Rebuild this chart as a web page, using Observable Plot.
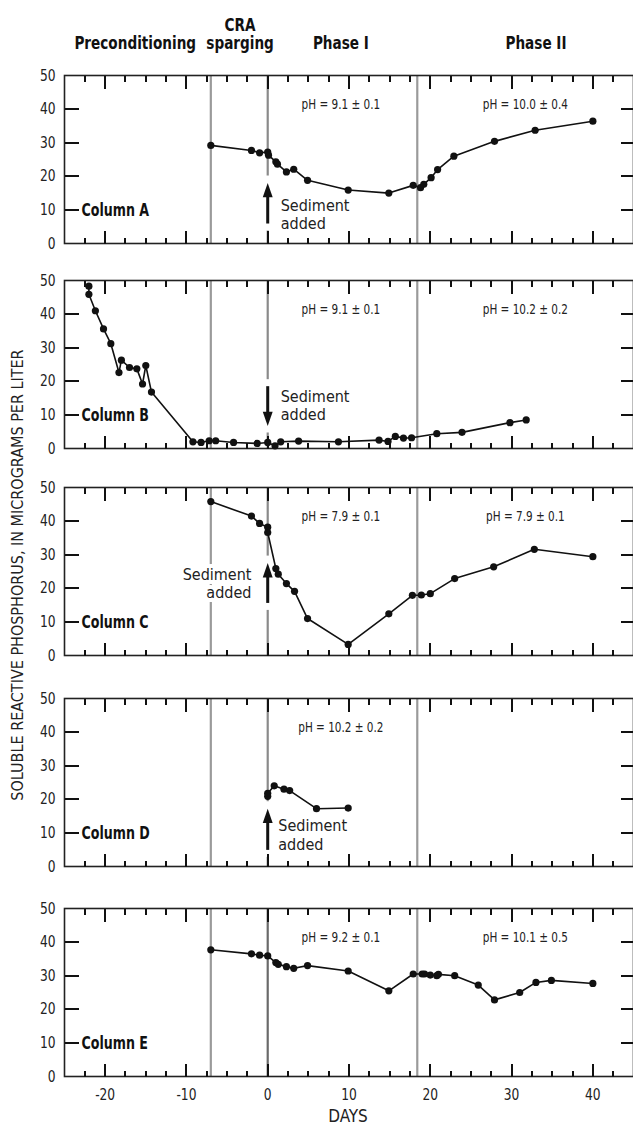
<!DOCTYPE html>
<html><head><meta charset="utf-8">
<script src="https://cdn.jsdelivr.net/npm/d3@7"></script>
<script src="https://cdn.jsdelivr.net/npm/@observablehq/plot@0.6"></script>
<style>
body{margin:0;background:#fff;}
#chart{position:relative;width:633px;height:1125px;overflow:hidden;font-family:"DejaVu Sans Condensed","DejaVu Sans",sans-serif;font-stretch:condensed;color:#222;}
#chart svg{position:absolute;left:0;overflow:visible;}
.abs{position:absolute;white-space:nowrap;}
</style></head><body><div id="chart"></div>
<script>
// ---------- data ----------
const panelNames = ["Column A", "Column B", "Column C", "Column D", "Column E"];

const daysA   = [-7, -2, -1, 0, 0.1, 1, 1.2, 2.3, 3.2, 4.9, 9.9, 14.9, 17.9, 18.8, 19.2, 20.1, 20.9, 22.9, 27.9, 32.9, 40];
const valuesA = [29.2, 27.7, 27.0, 27.2, 26.3, 24.3, 23.6, 21.3, 22.1, 18.8, 15.9, 15.0, 17.3, 16.6, 17.6, 19.6, 22.0, 26.0, 30.4, 33.7, 36.4];

const daysB   = [-22, -22, -21.2, -20.2, -19.3, -18.3, -18.0, -17.0, -16.1, -15.4, -15.0, -14.3, -9.2, -8.2, -7.2, -6.4, -4.2, -1.3, 0, 0.9, 1.6, 3.8, 8.7, 13.7, 14.8, 15.7, 16.7, 17.7, 20.8, 23.9, 29.8, 31.8];
const valuesB = [48.3, 45.9, 41.0, 35.6, 31.2, 22.6, 26.3, 24.1, 23.7, 19.2, 24.7, 16.8, 2.0, 1.8, 2.3, 2.3, 1.8, 1.5, 1.8, 0.8, 2.0, 2.2, 2.0, 2.5, 2.1, 3.6, 3.1, 3.2, 4.4, 4.8, 7.7, 8.5];

const daysC   = [-7, -2, -1, 0, 0, 1, 1.3, 2.3, 3.3, 4.9, 9.9, 14.9, 17.8, 18.9, 20, 23, 27.8, 32.8, 40];
const valuesC = [45.8, 41.5, 39.3, 38.2, 36.6, 25.9, 24.2, 21.4, 19.1, 11.0, 3.3, 12.4, 17.9, 18.0, 18.4, 22.9, 26.4, 31.6, 29.4];

const daysD   = [0, 0, 0.8, 2, 2.7, 6, 9.9];
const valuesD = [20.9, 21.8, 24.0, 23.0, 22.6, 17.2, 17.4];

const daysE   = [-7, -2, -1, 0, 1, 1.3, 2.3, 3.2, 4.9, 9.9, 14.9, 17.9, 19, 19.3, 20, 20.8, 21, 23, 25.9, 27.9, 31, 33, 34.9, 40];
const valuesE = [37.7, 36.5, 36.1, 35.9, 33.9, 33.4, 32.7, 32.2, 33.0, 31.4, 25.5, 30.5, 30.5, 30.5, 30.2, 30.0, 30.4, 30.0, 27.2, 22.8, 25.0, 28.0, 28.6, 27.7];

const pHPhaseI  = ["pH = 9.1 ± 0.1", "pH = 9.1 ± 0.1", "pH = 7.9 ± 0.1", "pH = 10.2 ± 0.2", "pH = 9.2 ± 0.1"];
const pHPhaseII = ["pH = 10.0 ± 0.4", "pH = 10.2 ± 0.2", "pH = 7.9 ± 0.1", null, "pH = 10.1 ± 0.5"];

const phaseBoundaries = [-7, 0, 18.4];            // days
const phaseTitles = ["Preconditioning", "CRA\nsparging", "Phase I", "Phase II"];
const phaseTitleDays = [-16.3, -3.4, 9, 33];

// "Sediment added" arrows at day 0: tail and tip values
const arrowTail = [5.8, 18.4, 15.5, 4.8, null];
const arrowTip  = [18.0, 6.7, 27.5, 17.2, null];
const sedimentLabel = "Sediment\nadded";
const sedimentDay = [1.6, 1.6, -2.0, 1.3, null];
const sedimentVal = [8.8, 12.9, 21.6, 9.5, null];

const xMajorTicks = [-20, -10, 0, 10, 20, 30, 40];
const xMinorTicks = [-22.5, -17.5, -15, -12.5, -7.5, -5, -2.5, 2.5, 5, 7.5, 12.5, 15, 17.5, 22.5, 25, 27.5, 32.5, 35, 37.5, 42.5];
const yTicks = [10, 20, 30, 40];
const yTickLabels = [0, 10, 20, 30, 40, 50];

const xLabel = "DAYS";
const yLabel = "SOLUBLE REACTIVE PHOSPHORUS, IN MICROGRAMS PER LITER";

// ---------- layout ----------
const FONT = '"DejaVu Sans Condensed","DejaVu Sans",sans-serif';
const W = 633, ML = 64, MR = 0, H = 168;
const xDomain = [-25, 45], yDomain = [0, 50];
const panelTops = [75, 280, 487, 698, 908];
const seriesDays = [daysA, daysB, daysC, daysD, daysE];
const seriesVals = [valuesA, valuesB, valuesC, valuesD, valuesE];

const unitsY = px => px * (yDomain[1] - yDomain[0]) / H;
const unitsX = px => px * (xDomain[1] - xDomain[0]) / (W - ML - MR);

// inward tick segments of the frame, built from the tick arrays
const [x0, x1] = xDomain, [y0, y1] = yDomain;
const tickSegments = [
  ...xMajorTicks.flatMap(t => [{a: t, b: t, c: y0, d: y0 + unitsY(13)}, {a: t, b: t, c: y1 - unitsY(13), d: y1}]),
  ...xMinorTicks.flatMap(t => [{a: t, b: t, c: y0, d: y0 + unitsY(6)}, {a: t, b: t, c: y1 - unitsY(6), d: y1}]),
  ...yTicks.flatMap(t => [{a: x0, b: x0 + unitsX(14), c: t, d: t}, {a: x1 - unitsX(13), b: x1, c: t, d: t}])
];

const arrowHead = {
  draw(ctx, size) {
    const r = Math.sqrt(size / Math.PI);
    ctx.moveTo(0, 0);
    ctx.lineTo(-0.9 * r, 2.6 * r);
    ctx.lineTo(0.9 * r, 2.6 * r);
    ctx.closePath();
  }
};

// squeeze text horizontally (the original uses a condensed face)
function condense(svg, selector, f) {
  svg.querySelectorAll(selector).forEach(g => {
    g.querySelectorAll("text").forEach(t => {
      const spans = t.querySelectorAll("tspan");
      const parts = spans.length ? Array.from(spans) : [t];
      parts.forEach(p => {
        const len = p.getComputedTextLength();
        if (len > 0) { p.setAttribute("textLength", (len * f).toFixed(2)); p.setAttribute("lengthAdjust", "spacingAndGlyphs"); }
      });
    });
  });
}

const chart = document.getElementById("chart");

panelNames.forEach((name, i) => {
  const last = i === panelNames.length - 1;
  const first = i === 0;
  const mt = first ? 75 : 10;
  const mb = last ? 40 : 10;
  const data = seriesDays[i].map((d, k) => ({day: d, value: seriesVals[i][k]}));
  const marks = [];

  marks.push(Plot.ruleX(phaseBoundaries, {stroke: d => d === 0 ? (last ? "#6a6a6a" : "#8a8a8a") : "#9a9a9a", strokeWidth: 2.2}));

  if (arrowTail[i] != null) {
    const t = arrowTail[i], p = arrowTip[i], dir = Math.sign(p - t);
    const pad = unitsY(7);
    marks.push(Plot.ruleX([0], {y1: t - dir * pad, y2: p + dir * pad, stroke: "white", strokeWidth: 10}));
    marks.push(Plot.ruleX([0], {y1: t, y2: p - dir * unitsY(8), stroke: "#111", strokeWidth: 3}));
    marks.push(Plot.dot([{day: 0, value: p}], {x: "day", y: "value", symbol: arrowHead, r: 5.5, fill: "#111", stroke: "none", rotate: dir > 0 ? 0 : 180}));
    marks.push(Plot.text([sedimentLabel], {x: sedimentDay[i], y: sedimentVal[i], textAnchor: sedimentDay[i] < 0 ? "end" : "start", fontSize: 16, lineHeight: 1.15, fill: "#222", stroke: "white", strokeWidth: 8}));
  }

  marks.push(Plot.frame({stroke: "#222", strokeWidth: 1.6}));

  marks.push(Plot.line(data, {x: "day", y: "value", stroke: "#111", strokeWidth: 1.6}));
  marks.push(Plot.dot(data, {x: "day", y: "value", r: 3.6, fill: "#111", stroke: "none"}));

  marks.push(Plot.text([name], {x: x0 + unitsX(17), y: yTicks[0], textAnchor: "start", fontWeight: "bold", fontSize: 18, fill: "#111", ariaDescription: "column-label"}));
  marks.push(Plot.text([pHPhaseI[i]], {x: 9, y: 41.4, fontSize: 14, fill: "#222", ariaDescription: "ph-label"}));
  if (pHPhaseII[i]) marks.push(Plot.text([pHPhaseII[i]], {x: 31.7, y: 41.4, fontSize: 14, fill: "#222", ariaDescription: "ph-label"}));

  if (first) {
    marks.push(Plot.text(phaseTitles, {x: (d, k) => phaseTitleDays[k], frameAnchor: "top", lineAnchor: "bottom", dy: -27, fontWeight: "bold", fontSize: 18, lineHeight: 1.0, fill: "#111", ariaDescription: "phase-title"}));
  }

  // frame ticks last, on top of everything
  marks.push(Plot.link(tickSegments, {x1: "a", x2: "b", y1: "c", y2: "d", stroke: "#111", strokeWidth: 2, shapeRendering: "crispEdges"}));

  const svg = Plot.plot({
    width: W, height: mt + H + mb,
    marginTop: mt, marginBottom: mb, marginLeft: ML, marginRight: MR,
    x: last ? {domain: xDomain, ticks: xMajorTicks, tickSize: 0, tickPadding: 12, tickFormat: d => String(d), label: null} : {domain: xDomain, axis: null},
    y: {domain: yDomain, ticks: yTickLabels, tickSize: 0, tickPadding: 9, tickFormat: d => String(d), label: null},
    style: {fontFamily: FONT, fontSize: "16px", color: "#222", background: "transparent", overflow: "visible"},
    marks
  });
  svg.style.top = (panelTops[i] - mt) + "px";
  chart.appendChild(svg);

  condense(svg, 'g[aria-description="column-label"]', 0.78);
  condense(svg, 'g[aria-description="ph-label"]', 0.83);
  condense(svg, 'g[aria-description="phase-title"]', 0.84);
  condense(svg, 'g[aria-label="y-axis tick label"], g[aria-label="x-axis tick label"]', 0.85);
});

const yl = document.createElement("div");
yl.className = "abs";
yl.textContent = yLabel;
Object.assign(yl.style, {left: "17px", top: "575px", fontSize: "16px", transform: "translate(-50%,-50%) rotate(-90deg)", color: "#222"});
chart.appendChild(yl);

const xl = document.createElement("div");
xl.className = "abs";
xl.textContent = xLabel;
Object.assign(xl.style, {left: "348px", top: "1116px", fontSize: "17px", transform: "translate(-50%,-50%)", color: "#222"});
chart.appendChild(xl);
</script>
</body></html>
